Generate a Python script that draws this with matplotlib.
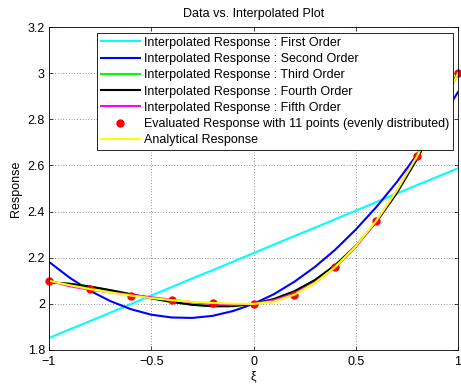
import matplotlib
matplotlib.use("Agg")
import matplotlib.pyplot as plt
from matplotlib.ticker import FixedLocator, FixedFormatter

plt.rcParams['font.family'] = ['Liberation Sans', 'DejaVu Sans']

# Curve sample grid
xs = [-1.0, -0.9, -0.8, -0.7, -0.6, -0.5, -0.4, -0.3, -0.2, -0.1, 0.0,
      0.1, 0.2, 0.3, 0.4, 0.5, 0.6, 0.7, 0.8, 0.9, 1.0]

first_order = [1.852, 1.889, 1.925, 1.962, 1.999, 2.036, 2.073, 2.110, 2.146, 2.183, 2.220,
               2.257, 2.294, 2.330, 2.367, 2.404, 2.441, 2.478, 2.515, 2.551, 2.588]
second_order = [2.182, 2.114, 2.057, 2.012, 1.977, 1.953, 1.941, 1.939, 1.948, 1.969, 2.000,
                2.042, 2.096, 2.160, 2.235, 2.322, 2.419, 2.527, 2.647, 2.777, 2.918]
third_order = [2.0937, 2.0871, 2.0751, 2.0593, 2.0417, 2.0241, 2.0083, 1.9961, 1.9895, 1.9902, 2.000,
               2.0209, 2.0545, 2.1029, 2.1677, 2.2509, 2.3543, 2.4797, 2.6289, 2.8039, 3.0063]
fourth_order = [2.0937, 2.0871, 2.0751, 2.0593, 2.0417, 2.0241, 2.0083, 1.9961, 1.9895, 1.9902, 2.000,
                2.0209, 2.0545, 2.1029, 2.1677, 2.2509, 2.3543, 2.4797, 2.6289, 2.8039, 3.0063]
fifth_order = [2.1006, 2.0766, 2.0612, 2.0498, 2.0394, 2.0287, 2.0175, 2.0069, 1.9987, 1.9954, 2.000,
               2.0156, 2.0453, 2.0921, 2.1585, 2.2463, 2.3566, 2.4892, 2.6428, 2.8144, 2.9994]
analytical = [2.100, 2.081, 2.064, 2.049, 2.036, 2.025, 2.016, 2.009, 2.004, 2.001, 2.000,
              2.010, 2.040, 2.090, 2.160, 2.250, 2.360, 2.490, 2.640, 2.810, 3.000]

# Evaluated data points
x_pts = [-1.0, -0.8, -0.6, -0.4, -0.2, 0.0, 0.2, 0.4, 0.6, 0.8, 1.0]
y_pts = [2.100, 2.064, 2.036, 2.016, 2.004, 2.000, 2.040, 2.160, 2.360, 2.640, 3.000]

labels = ["Interpolated Response : First Order",
          "Interpolated Response : Second Order",
          "Interpolated Response : Third Order",
          "Interpolated Response : Fourth Order",
          "Interpolated Response : Fifth Order",
          "Evaluated Response with 11 points (evenly distributed)",
          "Analytical Response"]

xticks = [-1, -0.5, 0, 0.5, 1]
xtick_labels = ["\u22121", "\u22120.5", "0", "0.5", "1"]
yticks = [1.8, 2.0, 2.2, 2.4, 2.6, 2.8, 3.0, 3.2]
ytick_labels = ["1.8", "2", "2.2", "2.4", "2.6", "2.8", "3", "3.2"]

fig = plt.figure(figsize=(4.61, 3.88), dpi=100)
ax = fig.add_axes([49/461, 1-350/388, (458-49)/461, (350-27)/388])

lw = 1.5
ax.plot(xs, first_order, color='#00ffff', lw=lw, label=labels[0])
ax.plot(xs, second_order, color='#0000ff', lw=lw, label=labels[1])
ax.plot(xs, third_order, color='#00ff00', lw=lw, label=labels[2])
ax.plot(xs, fourth_order, color='#000000', lw=lw, label=labels[3])
ax.plot(xs, fifth_order, color='#ff00ff', lw=lw, label=labels[4])
ax.plot(x_pts, y_pts, 'o', color='#ff0000', ms=5, mec='#ff0000', label=labels[5], clip_on=False)
ax.plot(xs, analytical, color='#ffff00', lw=lw, label=labels[6])

ax.set_xlim(-1, 1)
ax.set_ylim(1.8, 3.2)
ax.xaxis.set_major_locator(FixedLocator(xticks))
ax.xaxis.set_major_formatter(FixedFormatter(xtick_labels))
ax.yaxis.set_major_locator(FixedLocator(yticks))
ax.yaxis.set_major_formatter(FixedFormatter(ytick_labels))
ax.tick_params(direction='in', top=True, right=True, labelsize=9, length=3, width=0.5, pad=3)
ax.tick_params(axis='x', pad=4)
ax.grid(True, linestyle=(0, (1, 3)), color='#333333', linewidth=0.5)
for s in ax.spines.values():
    s.set_linewidth(0.6)

ax.set_title("Data vs. Interpolated Plot", fontsize=9, pad=7)
ax.set_xlabel("ξ", fontsize=9, labelpad=2)
ax.set_ylabel("Response", fontsize=9, labelpad=4)

leg = ax.legend(loc='upper left', bbox_to_anchor=((97-49)/409, 1-6/323), fontsize=9.0,
                frameon=True, fancybox=False, edgecolor='black', framealpha=1,
                handlelength=3.1, handletextpad=0.35, labelspacing=0.34,
                borderpad=0.3, borderaxespad=0)
leg.get_frame().set_linewidth(0.6)

fig.savefig("out.png", dpi=100)
